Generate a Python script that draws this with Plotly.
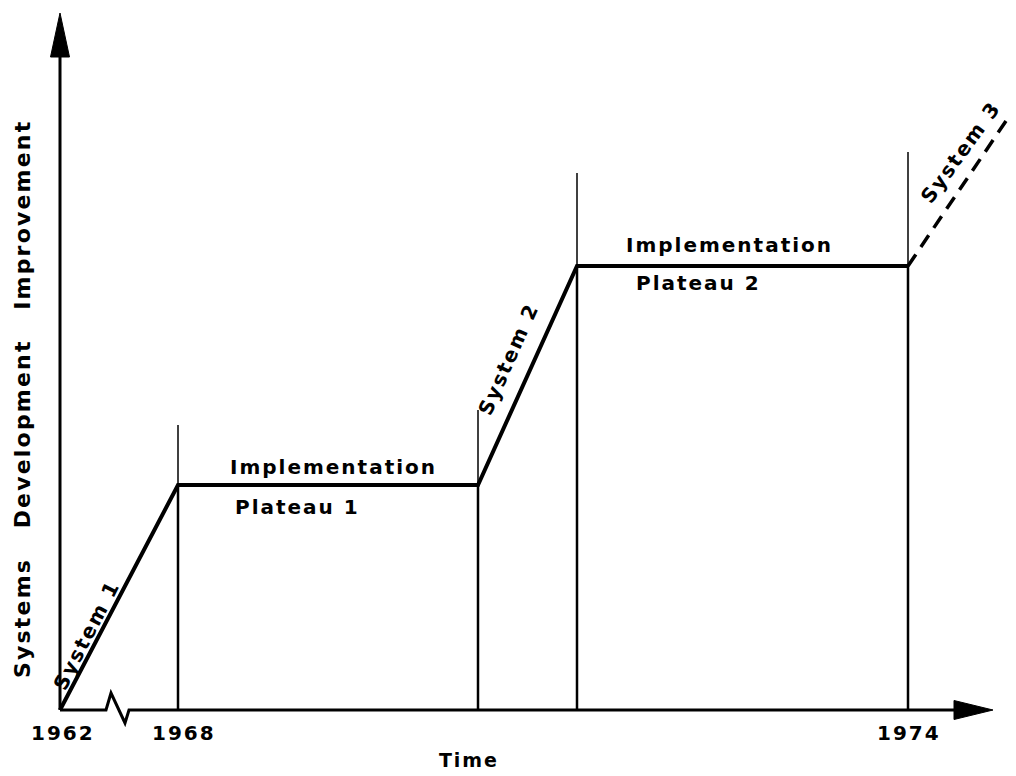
import plotly.graph_objects as go

# ---- data (abstract time / improvement units) ----
time_pts = [0, 11.8, 41.8, 51.7, 84.8]
improvement = [0, 22.5, 22.5, 44.4, 44.4]
sys3_time = [84.8, 94.8]
sys3_impr = [44.4, 59.2]
marker_time = [11.8, 41.8, 51.7, 84.8]
marker_top = [28.5, 30.0, 53.7, 55.8]
marker_plateau = [22.5, 22.5, 44.4, 44.4]
year_labels = ["1962", "1968", "1974"]
year_pos = [0.2, 12.3, 84.8]

FONT = "DejaVu Sans"
HS = "\u200a"


def spaced(s, n=1):
    return (HS * n).join(s)


fig = go.Figure()

# thin phase-marker verticals
for t, top, p in zip(marker_time, marker_top, marker_plateau):
    fig.add_trace(go.Scatter(x=[t, t], y=[p, top], mode="lines",
                             line=dict(color="black", width=1.5), hoverinfo="skip"))
    fig.add_trace(go.Scatter(x=[t, t], y=[0, p], mode="lines",
                             line=dict(color="black", width=2.5), hoverinfo="skip"))

# main system / plateau line
fig.add_trace(go.Scatter(x=time_pts, y=improvement, mode="lines",
                         line=dict(color="black", width=4), hoverinfo="skip"))
# system 3 (dashed)
fig.add_trace(go.Scatter(x=sys3_time, y=sys3_impr, mode="lines",
                         line=dict(color="black", width=3.5, dash="14px,9px"), hoverinfo="skip"))

# axes
fig.add_shape(type="line", x0=0, y0=0, x1=0, y1=66, line=dict(color="black", width=3))
fig.add_shape(type="path", path="M -0.95,65.3 L 0,69.7 L 0.95,65.3 Z",
              fillcolor="black", line=dict(color="black", width=1))
fig.add_shape(type="path",
              path="M 0,0 L 4.6,0 L 5.1,1.7 L 6.5,-1.3 L 6.9,0 L 89.6,0",
              line=dict(color="black", width=3))
fig.add_shape(type="path", path="M 89.4,0.95 L 93.3,0 L 89.4,-0.95 Z",
              fillcolor="black", line=dict(color="black", width=1))


def txt(x, y, s, size=20, angle=0, n=1):
    fig.add_annotation(x=x, y=y, text=spaced(s, n), showarrow=False, textangle=angle,
                       font=dict(family=FONT, size=size, color="black", weight="bold"),
                       xanchor="center", yanchor="middle")


for lab, pos in zip(year_labels, year_pos):
    txt(pos, -2.3, lab, 20)
txt(40.8, -5.0, "Time", 19)
txt(27.2, 24.3, "Implementation", 20)
txt(23.6, 20.3, "Plateau 1", 20)
txt(66.8, 46.5, "Implementation", 20)
txt(63.7, 42.7, "Plateau 2", 20)
txt(2.6, 7.4, "System 1", 20, -62.7)
txt(44.8, 35.0, "System 2", 20, -66)
txt(90.0, 55.7, "System 3", 20, -54)
txt(-3.8, 31.0, "Systems   Development   Improvement", 22, -90, 1)

# page body has an 8px offset; ranges chosen so origin sits at (60, 710) on the page
fig.update_layout(
    width=1016, height=776, margin=dict(l=0, r=0, t=0, b=0),
    paper_bgcolor="white", plot_bgcolor="white", showlegend=False,
    xaxis=dict(range=[-5.2, 96.4], visible=False, fixedrange=True),
    yaxis=dict(range=[-7.4, 70.2], visible=False, fixedrange=True),
)
fig.write_html("out.html")
